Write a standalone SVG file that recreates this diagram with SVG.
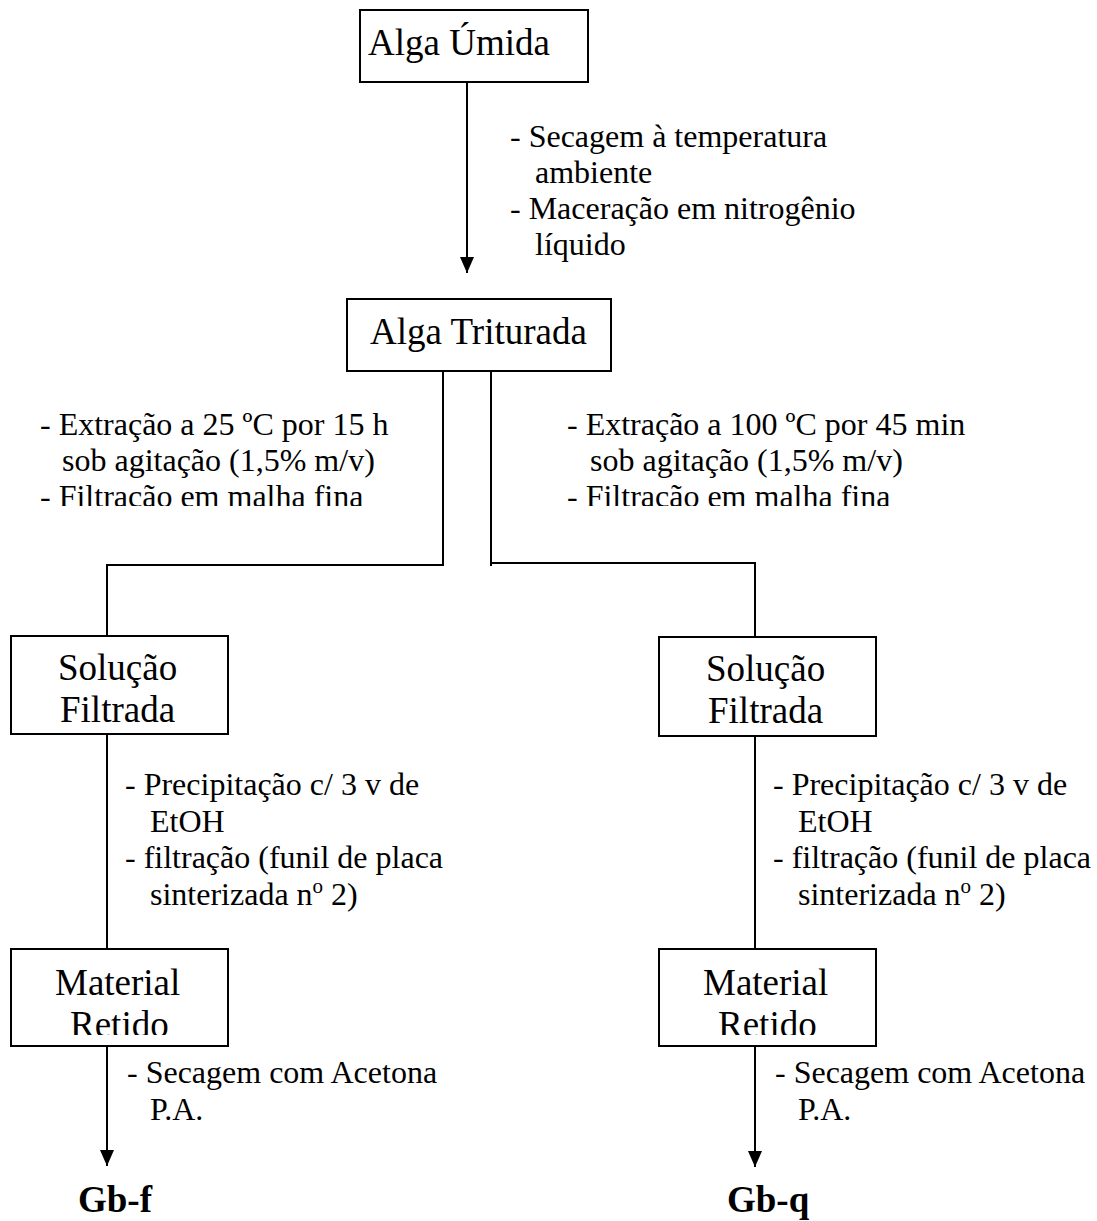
<svg xmlns="http://www.w3.org/2000/svg" width="1097" height="1221" viewBox="0 0 1097 1221">
  <style>
    .box { fill: #ffffff; stroke: #000000; stroke-width: 2; }
    .node { font-family: "Liberation Serif", "Times New Roman", serif; font-size: 37px; fill: #000000; }
    .lbl { font-family: "Liberation Serif", "Times New Roman", serif; font-size: 32px; fill: #000000; }
    .out { font-family: "Liberation Serif", "Times New Roman", serif; font-size: 37px; font-weight: bold; fill: #000000; }
    .conn { fill: none; stroke: #000000; stroke-width: 2; }
  </style>
  <defs>
    <marker id="arrow" viewBox="0 0 16 14" refX="16" refY="7" markerWidth="16" markerHeight="14" markerUnits="userSpaceOnUse" orient="auto">
      <path d="M0,0 L16,7 L0,14 z" fill="#000000"/>
    </marker>
    <clipPath id="clipFiltL"><rect x="0" y="380" width="540" height="126"/></clipPath>
    <clipPath id="clipFiltR"><rect x="540" y="380" width="557" height="126"/></clipPath>
    <clipPath id="clipRetL"><rect x="12" y="950" width="214" height="85"/></clipPath>
    <clipPath id="clipRetR"><rect x="660" y="950" width="214" height="85"/></clipPath>
  </defs>
  <rect width="1097" height="1221" fill="#ffffff"/>

  <g id="connectors">
    <path class="conn" d="M467,82 L467,273" marker-end="url(#arrow)"/>
    <path class="conn" d="M443,371 L443,565 M444,565 L107,565 L107,636"/>
    <path class="conn" d="M491,371 L491,566 M490,563 L755,563 L755,637"/>
    <path class="conn" d="M107,734 L107,949"/>
    <path class="conn" d="M755,736 L755,949"/>
    <path class="conn" d="M107,1046 L107,1166" marker-end="url(#arrow)"/>
    <path class="conn" d="M755,1046 L755,1167" marker-end="url(#arrow)"/>
  </g>

  <g id="labels">
    <g id="label-top">
      <text class="lbl" x="510" y="147">- Secagem à temperatura</text>
      <text class="lbl" x="535" y="183">ambiente</text>
      <text class="lbl" x="510" y="219">- Maceração em nitrogênio</text>
      <text class="lbl" x="535" y="255">líquido</text>
    </g>
    <g id="label-extr-left">
      <text class="lbl" x="40" y="435">- Extração a 25 ºC por 15 h</text>
      <text class="lbl" x="62" y="471">sob agitação (1,5% m/v)</text>
      <text class="lbl" x="40" y="507" clip-path="url(#clipFiltL)">- Filtração em malha fina</text>
    </g>
    <g id="label-extr-right">
      <text class="lbl" x="567" y="435">- Extração a 100 ºC por 45 min</text>
      <text class="lbl" x="590" y="471">sob agitação (1,5% m/v)</text>
      <text class="lbl" x="567" y="507" clip-path="url(#clipFiltR)">- Filtração em malha fina</text>
    </g>
    <g id="label-prec-left">
      <text class="lbl" x="125" y="795">- Precipitação c/ 3 v de</text>
      <text class="lbl" x="150" y="832">EtOH</text>
      <text class="lbl" x="125" y="868">- filtração (funil de placa</text>
      <text class="lbl" x="150" y="905">sinterizada n<tspan font-size="21" dy="-12">o</tspan><tspan dy="12"> 2)</tspan></text>
    </g>
    <g id="label-prec-right">
      <text class="lbl" x="773" y="795">- Precipitação c/ 3 v de</text>
      <text class="lbl" x="798" y="832">EtOH</text>
      <text class="lbl" x="773" y="868">- filtração (funil de placa</text>
      <text class="lbl" x="798" y="905">sinterizada n<tspan font-size="21" dy="-12">o</tspan><tspan dy="12"> 2)</tspan></text>
    </g>
    <g id="label-sec-left">
      <text class="lbl" x="127" y="1083">- Secagem com Acetona</text>
      <text class="lbl" x="150" y="1120">P.A.</text>
    </g>
    <g id="label-sec-right">
      <text class="lbl" x="775" y="1083">- Secagem com Acetona</text>
      <text class="lbl" x="798" y="1120">P.A.</text>
    </g>
  </g>

  <g id="node-alga-umida">
    <rect class="box" x="360" y="10" width="228" height="72"/>
    <text class="node" x="368" y="55">Alga Úmida</text>
  </g>
  <g id="node-alga-triturada">
    <rect class="box" x="347" y="299" width="264" height="72"/>
    <text class="node" x="370" y="344">Alga Triturada</text>
  </g>
  <g id="node-solucao-left">
    <rect class="box" x="11" y="636" width="217" height="98"/>
    <text class="node" x="58" y="680">Solução</text>
    <text class="node" x="60" y="722">Filtrada</text>
  </g>
  <g id="node-solucao-right">
    <rect class="box" x="659" y="637" width="217" height="99"/>
    <text class="node" x="706" y="681">Solução</text>
    <text class="node" x="708" y="723">Filtrada</text>
  </g>
  <g id="node-material-left">
    <rect class="box" x="11" y="949" width="217" height="97"/>
    <text class="node" x="55" y="995">Material</text>
    <text class="node" x="70" y="1037" clip-path="url(#clipRetL)">Retido</text>
  </g>
  <g id="node-material-right">
    <rect class="box" x="659" y="949" width="217" height="97"/>
    <text class="node" x="703" y="995">Material</text>
    <text class="node" x="718" y="1037" clip-path="url(#clipRetR)">Retido</text>
  </g>
  <g id="node-gbf">
    <text class="out" x="78" y="1212">Gb-f</text>
  </g>
  <g id="node-gbq">
    <text class="out" x="727" y="1212">Gb-q</text>
  </g>
</svg>
